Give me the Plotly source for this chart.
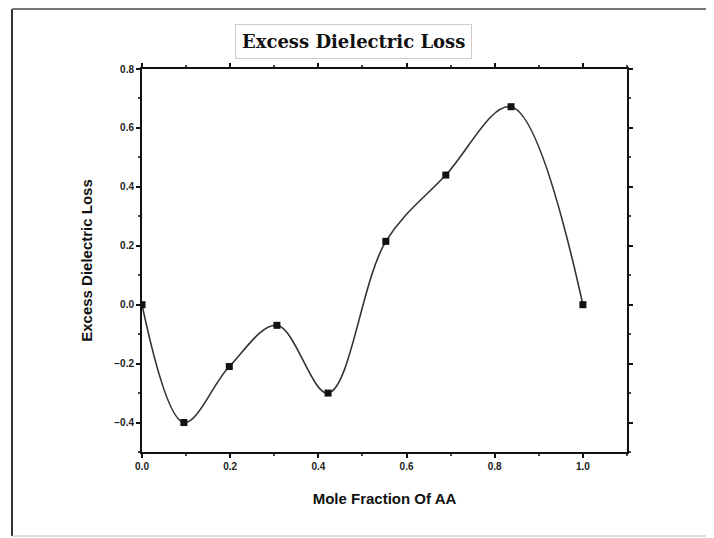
import plotly.graph_objects as go

mole_fraction = [0.0, 0.095, 0.198, 0.306, 0.422, 0.553, 0.689, 0.837, 1.0]
excess_loss = [0.0, -0.40, -0.21, -0.07, -0.30, 0.215, 0.44, 0.672, 0.0]

x_ticks = [0.0, 0.2, 0.4, 0.6, 0.8, 1.0]
y_ticks = [-0.4, -0.2, 0.0, 0.2, 0.4, 0.6, 0.8]

# page is offset by the 8px body margin, so the figure is sized accordingly
W, H = 706, 530
L, R, T, B = 134, 87, 61, 86
PW, PH = W - L - R, H - T - B

def px(xpage):
    return (xpage - 8 - L) / PW

def py(ypage):
    return (H - B - (ypage - 8)) / PH

fig = go.Figure()
fig.add_trace(go.Scatter(
    x=mole_fraction, y=excess_loss, mode="lines",
    line=dict(color="#333333", width=1.6, shape="spline", smoothing=1.0),
    showlegend=False, hoverinfo="skip"))
fig.add_trace(go.Scatter(
    x=mole_fraction, y=excess_loss, mode="markers",
    marker=dict(symbol="square", size=7, color="#111111"),
    showlegend=False))

tickfont = dict(family="Liberation Sans, Arial, sans-serif", size=10, color="#222222", weight="bold")
titlefont = dict(family="Liberation Sans, Arial, sans-serif", size=15, color="#111111", weight="bold")

fig.update_xaxes(
    range=[0, 1.1], tickvals=x_ticks, tickformat=".1f",
    showline=True, linecolor="#111111", linewidth=2, mirror="ticks",
    ticks="outside", ticklen=4, tickwidth=1.5, tickcolor="#111111",
    minor=dict(dtick=0.1, ticks="outside", ticklen=2, tickcolor="#444444", showgrid=False),
    showgrid=False, zeroline=False, tickfont=tickfont,
    title=dict(text="Mole Fraction Of AA", font=titlefont, standoff=22))
fig.update_yaxes(
    range=[-0.5, 0.8], tickvals=y_ticks, tickformat=".1f",
    showline=True, linecolor="#111111", linewidth=2, mirror="ticks",
    ticks="outside", ticklen=4, tickwidth=1.5, tickcolor="#111111",
    minor=dict(dtick=0.1, ticks="outside", ticklen=2, tickcolor="#444444", showgrid=False),
    showgrid=False, zeroline=False, tickfont=tickfont,
    title=dict(text="Excess Dielectric Loss", font=titlefont, standoff=18))

fig.add_annotation(
    xref="paper", yref="paper", x=px(353), y=py(42),
    text="Excess Dielectric Loss", showarrow=False,
    font=dict(family="DejaVu Serif, serif", size=18, color="#111111", weight="bold"),
    bordercolor="#cccccc", borderwidth=1, borderpad=6, bgcolor="white",
    xanchor="center", yanchor="middle")

# outer frame lines
fig.add_shape(type="line", xref="paper", yref="paper",
              x0=px(12), x1=px(12), y0=py(536), y1=py(9),
              line=dict(color="#333333", width=2))
fig.add_shape(type="line", xref="paper", yref="paper",
              x0=px(12), x1=px(714), y0=py(9), y1=py(9),
              line=dict(color="#777777", width=2))
fig.add_shape(type="line", xref="paper", yref="paper",
              x0=px(12), x1=px(714), y0=py(536), y1=py(536),
              line=dict(color="#bbbbbb", width=1))

fig.update_layout(
    width=W, height=H,
    margin=dict(l=L, r=R, t=T, b=B),
    paper_bgcolor="white", plot_bgcolor="white")

fig.write_html("out.html")
